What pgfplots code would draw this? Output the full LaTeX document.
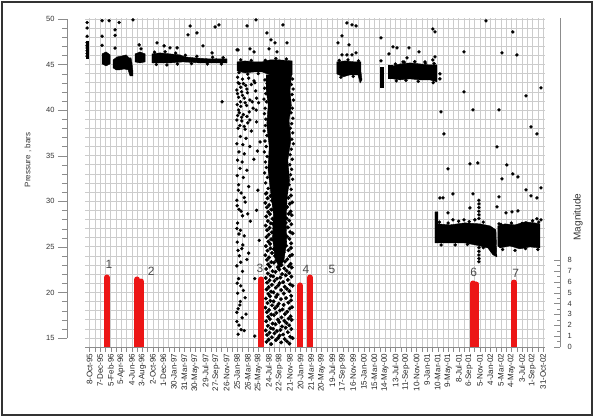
\documentclass[border=0pt]{standalone}
\usepackage{fontspec}
\setmainfont{Liberation Sans}
\usepackage{pgfplots}
\pgfplotsset{compat=1.18}
\definecolor{gridgray}{gray}{0.8}
\definecolor{axisgray}{gray}{0.55}
\definecolor{quakered}{RGB}{236,22,22}
\definecolor{numgray}{gray}{0.3}
\pgfplotsset{every axis/.append style={/pgf/number format/assume math mode=true}}

\begin{document}
\begin{tikzpicture}[x=1pt,y=1pt]
\useasboundingbox (0,0) rectangle (594,417);
\draw[black!80, line width=1.2pt] (2,2) rectangle (592,415);

% grid, date axis and pressure data (x = days after 8-Oct-95)
\begin{axis}[
  at={(85pt,70pt)}, anchor=south west,
  scale only axis, width=460pt, height=329pt,
  xmin=-26, xmax=2591, ymin=14, ymax=50.1,
  axis x line*=bottom, axis y line*=left,
  y axis line style={draw=none},
  x axis line style={axisgray, line width=0.8pt},
  xtick={0,60,...,2580}, minor x tick num=1,
  xticklabels={8-Oct-95,7-Dec-95,5-Feb-96,5-Apr-96,4-Jun-96,3-Aug-96,2-Oct-96,1-Dec-96,
    30-Jan-97,31-Mar-97,30-May-97,29-Jul-97,27-Sep-97,26-Nov-97,25-Jan-98,26-Mar-98,
    25-May-98,24-Jul-98,22-Sep-98,21-Nov-98,20-Jan-99,21-Mar-99,20-May-99,19-Jul-99,
    17-Sep-99,16-Nov-99,15-Jan-00,15-Mar-00,14-May-00,13-Jul-00,11-Sep-00,10-Nov-00,
    9-Jan-01,10-Mar-01,9-May-01,8-Jul-01,6-Sep-01,5-Nov-01,4-Jan-02,5-Mar-02,
    4-May-02,3-Jul-02,1-Sep-02,31-Oct-02},
  xticklabel style={rotate=90, anchor=east, font=\fontsize{8}{9}\selectfont, inner sep=1.5pt, black!85},
  ytick={14,...,50}, yticklabels={}, ytick style={draw=none},
  tick align=outside, major tick length=5pt, minor tick length=5pt,
  xtick style={axisgray},
  grid=both, grid style={gridgray, line width=0.5pt},
  minor grid style={gridgray, line width=0.5pt},
]
% dense bands
\addplot[fill=black, draw=black] coordinates {(-18,45.7) (-10,45.7) (-10,47.5) (-18,47.5)} -- cycle;
\addplot[fill=black, draw=black] coordinates {(71,46.16) (94,46.38) (117,46.05) (117,45.06) (94,44.84) (71,45.06)} -- cycle;
\addplot[fill=black, draw=black] coordinates {(134,45.50) (156,45.83) (185,45.94) (208,46.05) (225,45.72) (236,45.72) (242,45.06) (247,44.19) (247,43.75) (230,43.75) (219,44.41) (196,44.51) (173,44.41) (151,44.41) (134,44.62)} -- cycle;
\addplot[fill=black, draw=black] coordinates {(259,46.16) (287,46.38) (316,46.16) (316,45.28) (287,45.17) (259,45.28)} -- cycle;
\addplot[fill=black, draw=black] coordinates {(355,46.16) (401,46.27) (458,46.16) (515,46.05) (543,45.83) (600,45.72) (685,45.61) (782,45.61) (782,45.17) (628,45.17) (532,45.28) (458,45.17) (355,45.17)} -- cycle;
\addplot[fill=black, draw=black] coordinates {(839,45.28) (884,45.39) (941,45.28) (981,45.28) (1027,45.50) (1083,45.50) (1152,45.39) (1152,43.86) (1083,43.75) (1027,43.86) (981,44.19) (941,44.19) (884,44.08) (839,44.30)} -- cycle;
\addplot[fill=black, draw=black] coordinates {(1005,43.86) (1150,43.86) (1140,42.2) (1148,40.5) (1135,38.9) (1145,36.7) (1128,34.5) (1138,32.3) (1124,30.5) (1118,28.0) (1122,25.5) (1105,23.5) (1080,22.6) (1055,23.8) (1040,26.0) (1046,28.5) (1030,31.0) (1015,33.5) (1022,36.0) (1008,38.4) (1016,40.5) (1005,42.2)} -- cycle;
\addplot[fill=black, draw=black] coordinates {(1407,45.28) (1453,45.39) (1510,45.28) (1544,45.28) (1544,44.19) (1550,43.31) (1539,42.98) (1527,43.86) (1481,43.86) (1442,43.64) (1407,43.97)} -- cycle;
\addplot[fill=black, draw=black] coordinates {(1652,44.73) (1669,44.73) (1669,42.54) (1652,42.54)} -- cycle;
\addplot[fill=black, draw=black] coordinates {(1698,44.95) (1720,44.95) (1720,43.53) (1698,43.53)} -- cycle;
\addplot[fill=black, draw=black] coordinates {(1726,44.84) (1766,45.06) (1823,45.17) (1880,45.06) (1936,44.95) (1976,44.95) (1976,43.09) (1936,43.31) (1880,43.31) (1823,43.42) (1766,43.31) (1726,43.42)} -- cycle;
\addplot[fill=black, draw=black] coordinates {(1965,28.83) (1982,28.83) (1982,27.51) (2050,27.40) (2135,27.62) (2221,27.51) (2278,27.29) (2312,26.85) (2317,23.89) (2295,24.11) (2266,24.87) (2221,25.09) (2135,25.42) (2050,25.42) (1965,25.42)} -- cycle;
\addplot[fill=black, draw=black] coordinates {(2323,27.29) (2363,27.51) (2420,27.40) (2477,27.73) (2533,27.62) (2562,27.51) (2562,24.87) (2505,24.98) (2448,24.77) (2391,25.09) (2335,24.87) (2323,25.09)} -- cycle;
% scattered readings
\addplot[only marks, mark=*, mark size=1.5pt, black] coordinates {
(-14,49.6) (-14,49.0) (-14,48.1)
(-14,47.4) (-14,47.1) (-14,46.8) (-14,46.5) (-14,46.2) (-14,45.9)
(71,49.8) (71,48.1) (71,47.1) (111,49.8) (145,48.8) (145,48.2) (168,49.6) (247,49.9) (145,46.8)
(282,47.15) (293,46.71)
(384,47.37) (424,47.04) (458,46.82) (498,46.82) (560,48.24) (572,49.23) (611,48.46) (645,47.04)
(714,49.12) (736,49.34) (697,46.27) (754,40.9)
(896,49.23) (947,49.89) (845,46.60) (913,46.71) (936,46.38) (1009,48.46) (1032,47.70) (1055,47.37)
(1100,49.34) (1123,47.37) (1066,46.38) (1021,46.71) (839,46.6)
(1464,49.56) (1493,49.34) (1516,49.23) (1436,48.13) (1413,47.37) (1476,47.15) (1436,46.05)
(1464,46.05) (1493,46.05) (1516,46.27)
(1658,47.92) (1658,45.39) (1703,46.16)
(1726,46.93) (1749,46.82) (1817,46.82) (1874,46.38) (1783,45.28) (1806,45.72) (1908,45.28)
(1953,48.90) (1965,48.57) (1965,45.83) (1953,45.50) (1993,43.97) (1993,43.42)
(2255,49.78) (2408,48.57) (2130,46.38) (2346,46.27) (2431,46.05) (2568,42.43) (2483,41.55)
(2130,41.99) (1999,39.80) (2181,40.02) (2329,40.02) (2016,37.38) (2511,38.15) (2545,37.38)
(2318,35.96) (2039,33.54) (2164,34.09) (2209,34.20) (2374,33.98) (2408,32.99) (2437,32.66)
(2346,32.45) (1993,30.36) (2011,30.36) (2067,30.80) (2181,30.80) (2329,30.47) (2483,31.24)
(2511,30.58) (2545,30.36) (2568,31.46) (2318,29.37) (2164,29.26) (2403,28.83) (2369,28.71)
(2437,28.93) (2039,28.71) (2067,27.95) (2130,27.95) (2192,27.95) (2329,27.51) (2380,27.18)
(2483,27.62) (2545,28.06) (2568,27.95)
(2215,30.1) (2215,29.7) (2215,29.3) (2215,28.9) (2215,28.5) (2215,28.1) (2215,24.9)
(2215,24.5) (2215,24.1) (2215,23.7) (2215,23.35)
(370,46.35) (430,46.4) (490,46.25) (545,46.0) (610,45.9) (700,45.8) (760,45.75)
(380,45.0) (440,44.95) (500,45.05) (580,45.1) (670,45.05) (750,45.05) (720,45.5)
(850,44.1) (900,43.95) (960,44.0) (860,45.5) (920,45.45) (1000,45.45) (1060,45.65) (1120,45.6)
(1420,45.45) (1470,45.5) (1530,45.4) (1430,43.6) (1500,43.7)
(1740,45.05) (1790,45.25) (1850,45.3) (1910,45.15) (1960,45.1) (1745,43.2) (1800,43.25)
(1870,43.15) (1955,43.0)
(1990,27.7) (2040,27.6) (2100,27.8) (2160,27.75) (2240,27.7) (2000,25.2) (2080,25.2)
(2150,25.25) (2240,24.9) (2290,24.5)
(2340,27.45) (2400,27.6) (2460,27.55) (2520,27.85) (2555,27.7) (2350,24.7) (2420,24.6)
(2480,24.8) (2550,24.7)
(842,43.6) (870,43.4) (905,43.5) (935,43.2) (852,42.9) (888,42.7) (920,42.8)
(838,42.2) (865,42.0) (898,41.9) (945,42.1) (848,41.4) (880,41.3) (912,41.1)
(840,40.6) (860,40.4) (893,40.5) (930,40.2) (852,39.7) (875,39.5) (908,39.8)
(838,38.9) (866,38.8) (900,38.6) (950,38.7) (845,38.0) (885,37.9) (920,37.7)
(858,37.1) (890,36.9) (838,36.3) (872,36.2) (912,36.0) (850,35.4) (880,35.2)
(842,34.5) (868,34.3) (935,34.6) (856,33.6) (895,33.4) (840,32.8) (875,32.6)
(848,31.8) (905,31.6) (862,30.9) (838,30.1) (885,29.9) (850,29.1) (870,28.4)
(842,27.6) (915,27.8) (858,26.8) (880,26.2) (840,25.5) (866,24.8) (852,24.0)
(895,23.6) (838,22.9) (870,22.3) (848,21.5) (860,20.7) (842,19.9) (885,19.4)
(855,18.6) (838,17.8) (868,17.2) (850,16.4) (880,15.8) (845,15.4) (940,15.2)
(962,40.8) (970,36.5) (958,31.2) (965,25.7) (975,19.8) (960,44.6)
(845,43.0) (860,42.5) (875,42.9) (895,42.3) (842,41.8) (870,41.6) (858,40.9) (885,40.8)
(848,40.0) (865,39.2) (895,39.3) (842,39.4) (855,38.3) (880,38.2) (912,38.9) (925,40.9)
(940,43.0) (950,41.3)
(846,31.2) (880,30.4) (840,29.5) (862,28.9) (900,28.6) (838,27.0) (850,26.4) (872,25.2)
(845,24.6) (905,24.3) (860,23.3) (840,21.0) (875,20.2) (858,19.0) (845,18.2) (890,17.6)
(838,16.8) (862,15.9) (950,29.0) (940,21.5) (955,35.5) (948,40.0)
(998,43.3) (1010,42.9) (996,42.4) (1003,41.8) (992,41.2) (1006,40.9) (999,40.2) (995,39.6)
(1003,39.0) (1000,38.3) (993,37.7) (1009,37.2) (998,36.6) (1005,36.0) (994,35.4) (1010,34.9)
(1000,34.3) (1006,33.7) (996,33.1) (1012,32.6) (1002,32.0) (1016,31.4) (1008,30.9)
(1155,43.4) (1148,42.8) (1158,42.3) (1152,41.7) (1160,41.1) (1154,40.2) (1146,39.7) (1157,39.1)
(1150,38.5) (1142,38.0) (1156,37.5) (1151,36.8) (1159,36.3) (1148,35.7) (1141,35.1) (1153,34.6)
(1139,34.0) (1150,33.5) (1144,32.9) (1155,32.4) (1135,31.8) (1147,31.3)
};
% dense cloud of the 1998 readings
\addplot[only marks, mark=*, mark size=1.8pt, black] coordinates {
(1003,30.82) (1061,31.00) (1118,30.87) (1029,30.57) (1089,30.75) (1146,30.62)
(1012,30.32) (1047,30.50) (1131,30.37) (1038,30.07) (1076,30.25) (1104,30.12)
(1000,29.82) (1068,30.00) (1152,29.87) (1021,29.57) (1055,29.75) (1097,29.62) (1139,29.72)
(1009,29.32) (1083,29.50) (1125,29.37) (1034,29.07) (1063,29.25) (1112,29.12)
(1016,28.82) (1049,29.00) (1144,28.87) (1026,28.57) (1092,28.75) (1133,28.62)
(1005,28.32) (1071,28.50) (1108,28.37) (1150,28.47) (1041,28.07) (1079,28.25) (1121,28.12)
(1014,27.82) (1058,28.00) (1136,27.87) (1031,27.57) (1095,27.75) (1116,27.62)
(1002,27.32) (1044,27.50) (1086,27.37) (1148,27.47) (1024,27.07) (1066,27.25) (1128,27.12)
(1010,26.82) (1052,27.00) (1101,26.87) (1037,26.57) (1081,26.75) (1141,26.62)
(1019,26.32) (1073,26.50) (1110,26.37) (1155,26.47) (1007,26.07) (1060,26.25) (1123,26.12)
(1033,25.82) (1090,26.00) (1137,25.87) (1017,25.57) (1046,25.75) (1105,25.62)
(1027,25.32) (1069,25.50) (1147,25.37)
(1003,25.07) (1061,25.25) (1118,25.12) (1029,24.82) (1089,25.00) (1146,24.87)
(1012,24.57) (1047,24.75) (1131,24.62) (1038,24.32) (1076,24.50) (1104,24.37)
(1000,24.07) (1068,24.25) (1152,24.12) (1021,23.82) (1055,24.00) (1097,23.87) (1139,23.97)
(1009,23.57) (1083,23.75) (1125,23.62) (1034,23.32) (1063,23.50) (1112,23.37)
(1016,23.07) (1049,23.25) (1144,23.12) (1026,22.82) (1092,23.00) (1133,22.87)
(1005,22.57) (1071,22.75) (1108,22.62) (1150,22.72) (1041,22.32) (1079,22.50) (1121,22.37)
(1014,22.07) (1058,22.25) (1136,22.12) (1031,21.82) (1095,22.00) (1116,21.87)
(1002,21.57) (1044,21.75) (1086,21.62) (1148,21.72) (1024,21.32) (1066,21.50) (1128,21.37)
(1010,21.07) (1052,21.25) (1101,21.12) (1037,20.82) (1081,21.00) (1141,20.87)
(1019,20.57) (1073,20.75) (1110,20.62) (1155,20.72) (1007,20.32) (1060,20.50) (1123,20.37)
(1033,20.07) (1090,20.25) (1137,20.12) (1017,19.82) (1046,20.00) (1105,19.87)
(1027,19.57) (1069,19.75) (1147,19.62)
(1003,19.32) (1061,19.50) (1118,19.37) (1029,19.07) (1089,19.25) (1146,19.12)
(1012,18.82) (1047,19.00) (1131,18.87) (1038,18.57) (1076,18.75) (1104,18.62)
(1000,18.32) (1068,18.50) (1152,18.37) (1021,18.07) (1055,18.25) (1097,18.12) (1139,18.22)
(1009,17.82) (1083,18.00) (1125,17.87) (1034,17.57) (1063,17.75) (1112,17.62)
(1016,17.32) (1049,17.50) (1144,17.37) (1026,17.07) (1092,17.25) (1133,17.12)
(1005,16.82) (1071,17.00) (1108,16.87) (1150,16.97) (1041,16.57) (1079,16.75) (1121,16.62)
(1014,16.32) (1058,16.50) (1136,16.37) (1031,16.07) (1095,16.25) (1116,16.12)
(1002,15.82) (1044,16.00) (1086,15.87) (1148,15.97) (1024,15.57) (1066,15.75) (1128,15.62)
(1010,15.32) (1052,15.50) (1101,15.37) (1037,15.07) (1081,15.25) (1141,15.12)
(1019,14.82) (1073,15.00) (1110,14.87) (1155,14.97) (1007,14.57) (1060,14.75) (1123,14.62)
(1033,14.32) (1090,14.50) (1137,14.37)
};
\end{axis}

% pressure axis, offset to the left
\begin{axis}[
  at={(67pt,79pt)}, anchor=south west,
  scale only axis, width=478pt, height=319pt,
  xmin=0, xmax=1, ymin=15, ymax=50,
  axis y line*=left, axis x line=none,
  y axis line style={axisgray, line width=0.8pt},
  ytick={15,20,...,50}, minor y tick num=4,
  tick align=outside, major tick length=9pt, minor tick length=5pt,
  tick style={axisgray},
  yticklabel style={font=\fontsize{7.5}{9}\selectfont, black!80},
  ylabel={Pressure , bars},
  ylabel style={at={(axis description cs:-0.0816,0.558)}, anchor=center, font=\fontsize{8}{9}\selectfont, black!80},
]
\end{axis}

% magnitude axis and earthquakes
\begin{axis}[
  at={(85pt,70pt)}, anchor=south west,
  scale only axis, width=475pt, height=329pt,
  xmin=-26, xmax=2676.4, ymin=0, ymax=30.25,
  axis y line*=right, axis x line=none,
  y axis line style={axisgray, line width=0.8pt},
  ytick={0,...,8}, minor ytick={0.5,1.5,...,7.5},
  tick align=inside, major tick length=6pt, minor tick length=3pt,
  tick style={axisgray},
  yticklabel style={font=\fontsize{7.5}{9}\selectfont, black!80, anchor=west, xshift=4pt},
]
\addplot[ycomb, quakered, line width=6pt, line cap=round] coordinates {
  (97,6.39) (270,6.21) (293,6.02) (975,6.21) (1197,5.66) (1254,6.39)
  (2181,5.84) (2201,5.75) (2414,5.93)};
\node[numgray, font=\fontsize{12}{14}\selectfont] at (axis cs:111,7.63) {1};
\node[numgray, font=\fontsize{12}{14}\selectfont] at (axis cs:350,6.99) {2};
\node[numgray, font=\fontsize{12}{14}\selectfont] at (axis cs:970,7.26) {3};
\node[numgray, font=\fontsize{12}{14}\selectfont] at (axis cs:1231,7.17) {4};
\node[numgray, font=\fontsize{12}{14}\selectfont] at (axis cs:1379,7.17) {5};
\node[numgray, font=\fontsize{12}{14}\selectfont] at (axis cs:2185,6.9) {6};
\node[numgray, font=\fontsize{12}{14}\selectfont] at (axis cs:2425,6.8) {7};
\end{axis}

\node[rotate=90, font=\fontsize{10}{11}\selectfont, black!80] at (578,200) {Magnitude};
\end{tikzpicture}
\end{document}
